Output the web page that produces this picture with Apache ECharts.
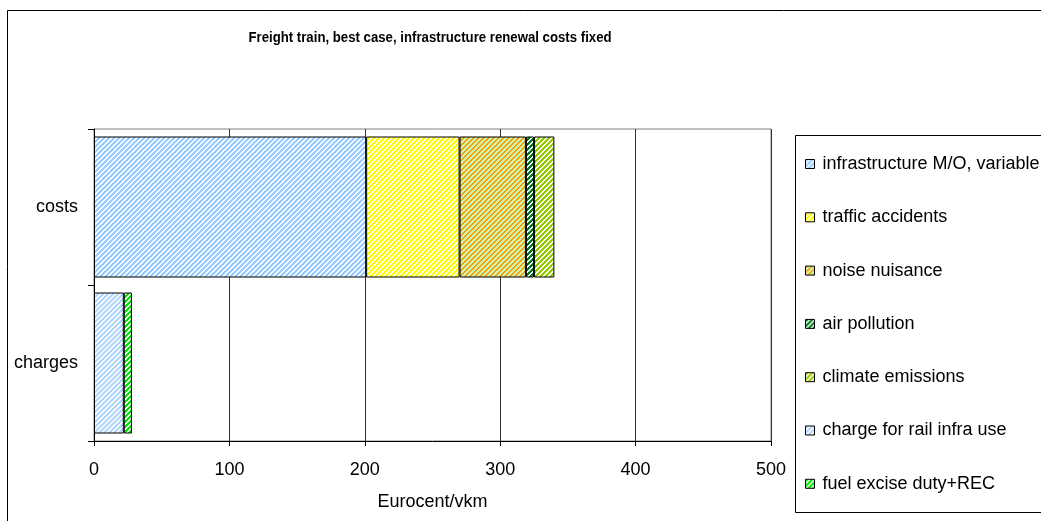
<!DOCTYPE html>
<html>
<head>
<meta charset="utf-8">
<script src="https://cdn.jsdelivr.net/npm/echarts@6/dist/echarts.min.js"></script>
<style>
  html, body { margin: 0; padding: 0; background: #fff; }
  #chart { width: 1041px; height: 521px; }
</style>
</head>
<body>
<div id="chart"></div>
<script>
// Categories (top to bottom)
const categories = ['costs', 'charges'];

// External costs of a freight train, Eurocent/vkm
const infraMO = [201, '-'];
const trafficAccidents = [69, '-'];
const noiseNuisance = [49, '-'];
const airPollution = [6, '-'];
const climateEmissions = [15, '-'];

// Charges paid
const railInfraCharge = ['-', 22];
const fuelExcise = ['-', 6];

const xTicks = { min: 0, max: 500, interval: 100 };

const chartTitle = 'Freight train, best case, infrastructure renewal costs fixed';

// Diagonal "/" hatch tile
function hatch(fg, bg, n, w) {
  const c = document.createElement('canvas');
  c.width = n; c.height = n;
  const g = c.getContext('2d');
  g.fillStyle = bg;
  g.fillRect(0, 0, n, n);
  g.fillStyle = fg;
  for (let x = 0; x < n; x++) {
    for (let y = 0; y < n; y++) {
      if ((x + y) % n < w) g.fillRect(x, y, 1, 1);
    }
  }
  return { image: c, repeat: 'repeat' };
}

const FONT = "'Liberation Sans', Arial, sans-serif";
const FS = 18;

const seriesDefs = [
  { name: 'infrastructure M/O, variable', data: infraMO, color: hatch('#99ccff', '#ffffff', 5, 3) },
  { name: 'traffic accidents', data: trafficAccidents, color: hatch('#ffff00', '#ffffff', 5, 3) },
  { name: 'noise nuisance', data: noiseNuisance, color: hatch('#ff9900', '#ccf5b0', 5, 2) },
  { name: 'air pollution', data: airPollution, color: hatch('#007a1f', '#ffffff', 5, 3) },
  { name: 'climate emissions', data: climateEmissions, color: hatch('#99cc00', '#ffffff', 5, 3) },
  { name: 'charge for rail infra use', data: railInfraCharge, color: hatch('#b3d7ff', '#ffffff', 5, 3) },
  { name: 'fuel excise duty+REC', data: fuelExcise, color: hatch('#00e600', '#ffffff', 5, 3) }
];

const chart = echarts.init(document.getElementById('chart'), null, { renderer: 'canvas' });

chart.setOption({
  animation: false,
  backgroundColor: '#ffffff',
  textStyle: { fontFamily: FONT, color: '#000' },
  graphic: [
    // outer chart frame
    { type: 'rect', silent: true, z: -1,
      shape: { x: 7.5, y: 10.5, width: 1100, height: 600 },
      style: { fill: null, stroke: '#000', lineWidth: 1 } },
    // legend frame
    { type: 'rect', silent: true, z: -1,
      shape: { x: 795.5, y: 135.5, width: 300, height: 377 },
      style: { fill: null, stroke: '#000', lineWidth: 1 } },
    // condensed bold title
    { type: 'text', silent: true,
      x: 430, y: 38, scaleX: 0.88, scaleY: 1,
      style: {
        text: chartTitle,
        font: "bold 15px 'Liberation Sans', Arial, sans-serif",
        fill: '#000',
        align: 'center',
        verticalAlign: 'middle'
      } }
  ],
  legend: {
    orient: 'vertical',
    left: 805,
    top: 154,
    padding: 0,
    itemGap: 33.3,
    itemWidth: 9,
    itemHeight: 9,
    icon: 'rect',
    itemStyle: { borderColor: '#000', borderWidth: 1 },
    textStyle: { fontFamily: FONT, fontSize: FS, color: '#000', lineHeight: 20, padding: [0, 0, 0, 3] },
    data: seriesDefs.map(s => s.name)
  },
  grid: {
    left: 94,
    right: 270,
    top: 129,
    bottom: 80,
    show: true,
    borderColor: '#808080',
    borderWidth: 1,
    backgroundColor: 'transparent'
  },
  xAxis: {
    type: 'value',
    min: xTicks.min,
    max: xTicks.max,
    interval: xTicks.interval,
    name: 'Eurocent/vkm',
    nameLocation: 'middle',
    nameGap: 52,
    nameTextStyle: { fontFamily: FONT, fontSize: FS, color: '#000' },
    axisLine: { show: true, lineStyle: { color: '#000', width: 1 } },
    axisTick: { show: true, length: 5, lineStyle: { color: '#000' } },
    axisLabel: { fontFamily: FONT, fontSize: FS, color: '#000', margin: 20 },
    splitLine: { show: true, lineStyle: { color: '#333', width: 1 } }
  },
  yAxis: {
    type: 'category',
    data: categories,
    inverse: true,
    axisLine: { show: true, lineStyle: { color: '#000', width: 1 } },
    axisTick: { show: true, length: 6, lineStyle: { color: '#000' } },
    axisLabel: { fontFamily: FONT, fontSize: FS, color: '#000', margin: 16 },
    splitLine: { show: false }
  },
  series: seriesDefs.map(s => ({
    name: s.name,
    type: 'bar',
    stack: 'total',
    data: s.data,
    barWidth: 141,
    itemStyle: { color: s.color, borderColor: '#000', borderWidth: 1 },
    emphasis: { disabled: true }
  }))
});
</script>
</body>
</html>
